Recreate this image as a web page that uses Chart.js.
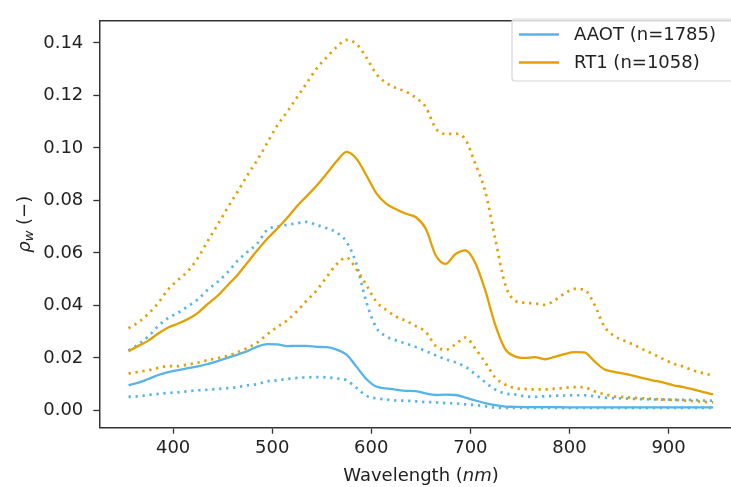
<!DOCTYPE html>
<html>
<head>
<meta charset="utf-8">
<script src="https://cdn.jsdelivr.net/npm/chart.js@4/dist/chart.umd.min.js"></script>
<style>
html,body{margin:0;padding:0;overflow:hidden;background:#fff;width:731px;height:487px}
canvas{display:block}
</style>
</head>
<body>
<canvas id="c" width="731" height="487"></canvas>
<script>
// Wavelength grid (nm)
const wavelengths = [355,365,375,385,395,405,415,425,435,445,455,465,475,485,495,505,515,525,535,545,555,565,575,585,595,605,615,625,635,645,655,665,675,685,695,705,715,725,735,745,755,765,775,785,795,805,815,825,835,845,855,865,875,885,895,905,915,925,935,945];

// AAOT (n=1785)
const aaotMedian = [0.0096,0.0106,0.0120,0.0135,0.0146,0.0154,0.0161,0.0168,0.0177,0.0188,0.0200,0.0213,0.0226,0.0243,0.0253,0.0252,0.0245,0.0246,0.0246,0.0242,0.0241,0.0232,0.0213,0.0167,0.0120,0.0091,0.0084,0.0079,0.0075,0.0074,0.0065,0.0059,0.0060,0.0059,0.0049,0.0038,0.0028,0.0020,0.0015,0.0014,0.0013,0.0013,0.0013,0.0013,0.0012,0.0012,0.0012,0.0012,0.0012,0.0012,0.0012,0.0012,0.0012,0.0012,0.0012,0.0012,0.0012,0.0012,0.0012,0.0012];
const aaotLower = [0.0052,0.0054,0.0059,0.0063,0.0067,0.0069,0.0073,0.0077,0.0079,0.0082,0.0085,0.0089,0.0096,0.0100,0.0111,0.0115,0.0120,0.0124,0.0126,0.0127,0.0126,0.0122,0.0115,0.0086,0.0056,0.0046,0.0042,0.0038,0.0037,0.0035,0.0032,0.0031,0.0028,0.0027,0.0023,0.0021,0.0016,0.0011,0.0010,0.0010,0.0010,0.0010,0.0010,0.0010,0.0010,0.0010,0.0010,0.0010,0.0010,0.0010,0.0010,0.0010,0.0010,0.0010,0.0010,0.0010,0.0010,0.0010,0.0010,0.0010];
const aaotUpper = [0.0229,0.0252,0.0282,0.0322,0.0352,0.0372,0.0397,0.0423,0.0460,0.0490,0.0526,0.0570,0.0604,0.0636,0.0688,0.0700,0.0707,0.0713,0.0718,0.0706,0.0694,0.0678,0.0642,0.0558,0.0413,0.0316,0.0282,0.0267,0.0255,0.0242,0.0226,0.0210,0.0195,0.0183,0.0166,0.0138,0.0107,0.0080,0.0065,0.0061,0.0054,0.0052,0.0054,0.0056,0.0057,0.0058,0.0058,0.0054,0.0049,0.0047,0.0046,0.0044,0.0043,0.0042,0.0041,0.0041,0.0040,0.0040,0.0038,0.0037];

// RT1 (n=1058)
const rt1Median = [0.0225,0.0246,0.0266,0.0293,0.0316,0.0331,0.0348,0.0372,0.0406,0.0437,0.0477,0.0516,0.0563,0.0610,0.0654,0.0692,0.0733,0.0778,0.0817,0.0857,0.0902,0.0949,0.0985,0.0959,0.0896,0.0828,0.0788,0.0766,0.0749,0.0736,0.0692,0.0591,0.0558,0.0596,0.0610,0.0562,0.0457,0.0327,0.0235,0.0206,0.0200,0.0203,0.0195,0.0204,0.0215,0.0222,0.0221,0.0188,0.0157,0.0147,0.0140,0.0132,0.0122,0.0114,0.0106,0.0096,0.0089,0.0080,0.0070,0.0062];
const rt1Lower = [0.0141,0.0147,0.0153,0.0162,0.0169,0.0169,0.0175,0.0182,0.0192,0.0199,0.0208,0.0222,0.0238,0.0259,0.0290,0.0318,0.0343,0.0378,0.0419,0.0458,0.0508,0.0557,0.0582,0.0537,0.0478,0.0415,0.0383,0.0358,0.0342,0.0321,0.0299,0.0246,0.0231,0.0252,0.0278,0.0235,0.0183,0.0126,0.0099,0.0085,0.0082,0.0080,0.0080,0.0083,0.0086,0.0089,0.0088,0.0073,0.0062,0.0054,0.0051,0.0048,0.0046,0.0044,0.0042,0.0040,0.0038,0.0036,0.0033,0.0031];
const rt1Upper = [0.0313,0.0336,0.0368,0.0410,0.0461,0.0497,0.0531,0.0581,0.0646,0.0708,0.0772,0.0833,0.0896,0.0954,0.1019,0.1085,0.1137,0.1192,0.1248,0.1303,0.1345,0.1384,0.1411,0.1396,0.1344,0.1282,0.1248,0.1228,0.1214,0.1191,0.1155,0.1075,0.1053,0.1054,0.1032,0.0939,0.0834,0.0655,0.0482,0.0418,0.0410,0.0408,0.0402,0.0420,0.0445,0.0463,0.0460,0.0405,0.0321,0.0284,0.0266,0.0250,0.0231,0.0214,0.0195,0.0178,0.0167,0.0152,0.0142,0.0133];

const xTicks = [400,500,600,700,800,900];
const yTicks = [0.00,0.02,0.04,0.06,0.08,0.10,0.12,0.14];
const seriesNames = ['AAOT (n=1785)','RT1 (n=1058)'];

const BLUE = '#56B4E9';
const ORANGE = '#E69F00';
const FONT = "'DejaVu Sans', sans-serif";

const pts = arr => wavelengths.map((w,i)=>({x:w, y:arr[i]}));
const solid = (label, arr, color) => ({label, data:pts(arr), borderColor:color, borderWidth:2.3, fill:false, pointRadius:0});
const dotted = (label, arr, color) => ({label, data:pts(arr), borderColor:color, borderWidth:2.7, borderDash:[2.3,4.7], borderCapStyle:'butt', fill:false, pointRadius:0});

const framePlugin = {
  id:'frame',
  afterDraw(chart){
    const {ctx, chartArea:a} = chart;
    ctx.save();
    ctx.strokeStyle = '#333'; ctx.lineWidth = 1.5;
    ctx.beginPath();
    ctx.moveTo(a.left, a.top); ctx.lineTo(a.right + 20, a.top);
    ctx.stroke();
    // x-axis title
    ctx.fillStyle = '#222';
    ctx.textBaseline = 'alphabetic';
    const p1 = 'Wavelength (', p2 = 'nm', p3 = ')';
    ctx.font = "18px " + FONT; const w1 = ctx.measureText(p1).width, w3 = ctx.measureText(p3).width;
    ctx.font = "italic 18px " + FONT; const w2 = ctx.measureText(p2).width;
    const cx = 421;
    let x = cx - (w1+w2+w3)/2; const y = 481;
    ctx.textAlign = 'left';
    ctx.font = "18px " + FONT; ctx.fillText(p1, x, y); x += w1;
    ctx.font = "italic 18px " + FONT; ctx.fillText(p2, x, y); x += w2;
    ctx.font = "18px " + FONT; ctx.fillText(p3, x, y);
    // y-axis title: rho_w (−)
    ctx.translate(30, (a.top + a.bottom)/2);
    ctx.rotate(-Math.PI/2);
    const q1 = 'ρ', q2 = 'w', q3 = ' (−)';
    ctx.font = "italic 18px " + FONT; const v1 = ctx.measureText(q1).width;
    ctx.font = "italic 13px " + FONT; const v2 = ctx.measureText(q2).width;
    ctx.font = "18px " + FONT; const v3 = ctx.measureText(q3).width;
    let xx = -(v1+v2+v3)/2;
    ctx.font = "italic 18px " + FONT; ctx.fillText(q1, xx, 0); xx += v1;
    ctx.font = "italic 13px " + FONT; ctx.fillText(q2, xx, 3); xx += v2;
    ctx.font = "18px " + FONT; ctx.fillText(q3, xx, 0);
    ctx.restore();
    // legend
    ctx.save();
    const bx = 512, by = 19, bw = 735 - 512, bh = 62, r = 3;
    ctx.beginPath();
    ctx.moveTo(bx+r, by); ctx.lineTo(bx+bw-r, by); ctx.arcTo(bx+bw, by, bx+bw, by+r, r);
    ctx.lineTo(bx+bw, by+bh-r); ctx.arcTo(bx+bw, by+bh, bx+bw-r, by+bh, r);
    ctx.lineTo(bx+r, by+bh); ctx.arcTo(bx, by+bh, bx, by+bh-r, r);
    ctx.lineTo(bx, by+r); ctx.arcTo(bx, by, bx+r, by, r); ctx.closePath();
    ctx.fillStyle = 'rgba(255,255,255,0.8)'; ctx.fill();
    ctx.strokeStyle = '#d6d6d6'; ctx.lineWidth = 1.2; ctx.stroke();
    const colors = [BLUE, ORANGE];
    const ys = [34.5, 62.5];
    for (let i=0;i<2;i++){
      ctx.strokeStyle = colors[i]; ctx.lineWidth = 2.3;
      ctx.beginPath(); ctx.moveTo(519, ys[i]); ctx.lineTo(559, ys[i]); ctx.stroke();
      ctx.fillStyle = '#222'; ctx.font = "18px " + FONT;
      ctx.textBaseline = 'middle'; ctx.textAlign = 'left';
      ctx.fillText(seriesNames[i], 574, ys[i]+1);
    }
    ctx.restore();
  }
};

new Chart(document.getElementById('c').getContext('2d'), {
  type:'line',
  data:{
    datasets:[
      solid(seriesNames[1], rt1Median, ORANGE),
      dotted(seriesNames[1]+' lower', rt1Lower, ORANGE),
      dotted(seriesNames[1]+' upper', rt1Upper, ORANGE),
      solid(seriesNames[0], aaotMedian, BLUE),
      dotted(seriesNames[0]+' lower', aaotLower, BLUE),
      dotted(seriesNames[0]+' upper', aaotUpper, BLUE)
    ]
  },
  options:{
    responsive:false,
    animation:false,
    devicePixelRatio:1,
    layout:{padding:{left:0, top:10, right:0, bottom:0}},
    plugins:{legend:{display:false}, tooltip:{enabled:false}},
    elements:{line:{cubicInterpolationMode:'monotone'}, point:{radius:0}},
    scales:{
      x:{
        type:'linear', min:325.5, max:963.0,
        afterBuildTicks: s => { s.ticks = xTicks.map(v=>({value:v})); },
        afterFit: s => { s.height = 59.3; },
        ticks:{font:{family:FONT, size:18}, color:'#222', padding:4, maxRotation:0, autoSkip:false, callback:v=>String(v)},
        grid:{drawOnChartArea:false, drawTicks:true, tickLength:6, tickColor:'#333', tickWidth:1.3},
        border:{display:true, color:'#333', width:1.5}
      },
      y:{
        type:'linear', min:-0.00656, max:0.1484,
        afterBuildTicks: s => { s.ticks = yTicks.map(v=>({value:v})); },
        afterFit: s => { s.width = 99.3; },
        ticks:{font:{family:FONT, size:18}, color:'#222', padding:10, autoSkip:false, callback:v=>Number(v).toFixed(2)},
        grid:{drawOnChartArea:false, drawTicks:true, tickLength:6, tickColor:'#333', tickWidth:1.3},
        border:{display:true, color:'#333', width:1.5}
      }
    }
  },
  plugins:[framePlugin]
});
</script>
</body>
</html>
